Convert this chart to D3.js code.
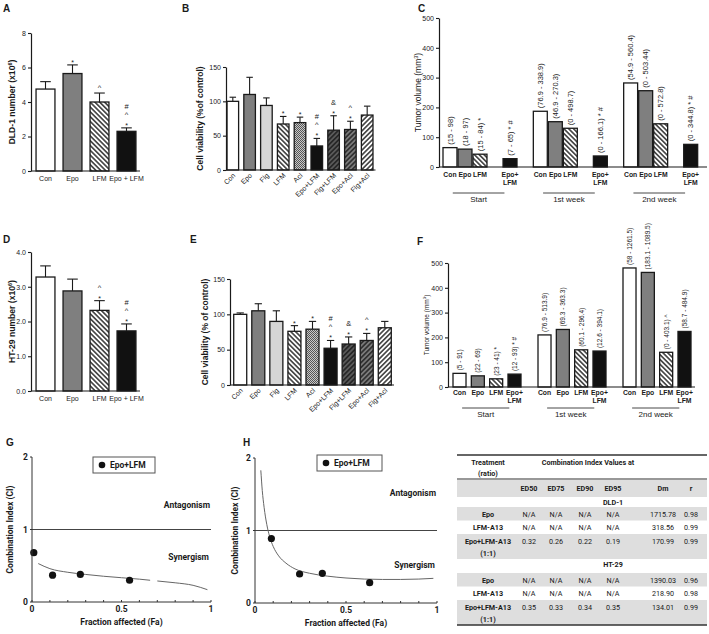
<!DOCTYPE html>
<html><head><meta charset="utf-8">
<script src="https://cdn.jsdelivr.net/npm/d3@7/dist/d3.min.js"></script>
<style>
body{margin:0;background:#fff}
svg{display:block}
text{font-family:Arial,"Liberation Sans",sans-serif;fill:#1a1a1a}
.tb text{font-family:Roboto,"Liberation Sans",Arial,sans-serif}
.ci text{font-family:Roboto,"Liberation Sans",Arial,sans-serif}
</style>
</head><body>
<svg id="chart" width="709" height="634"></svg>
<script>
// ---------------- DATA ----------------
// Panel A (DLD-1 cell number)
const aCats = ["Con","Epo","LFM","Epo + LFM"];
const aVals = [4.75, 5.65, 4.0, 2.3];
const aErr  = [5.18, 6.15, 4.52, 2.5];
const aMarks = [[],["*"],["^"],["*","^","#"]];
const aTicks = [0,2,4,6,8];
// Panel D (HT-29 cell number)
const dCats = ["Con","Epo","LFM","Epo + LFM"];
const dVals = [3.28, 2.88, 2.32, 1.73];
const dErr  = [3.6, 3.22, 2.6, 1.93];
const dMarks = [[],[],["*","^"],["*","^","#"]];
const dTicks = [0,1,2,3,4];
// Panel B (DLD-1 viability)
const vCats = ["Con","Epo","Flg","LFM","Acl","Epo+LFM","Flg+LFM","Epo+Acl","Flg+Acl"];
const bVals = [100, 110, 94, 67, 69, 35, 58, 59, 80];
const bErr  = [106, 135, 105, 78, 77, 46, 79, 71, 93];
const bMarks = [[],[],[],["*"],["*"],["*","^","#"],["*","&"],["*","^"],[]];
// Panel E (HT-29 viability)
const eVals = [100, 105, 90, 76, 79, 52, 58, 63, 81];
const eErr  = [102, 115, 105, 84, 90, 63, 68, 73, 90];
const eMarks = [[],[],[],["*"],["*"],["*","^","#"],["*","&"],["*","^"],[]];
const vTicks = [0,50,100,150];
// Panels C / F (tumor volume)
const tGroups = ["Start","1st week","2nd week"];
const tCats = ["Con","Epo","LFM","Epo+LFM"];
const cVals = [[65, 60, 43, 28],[187, 152, 130, 37],[282, 256, 145, 76]];
const cRanges = [["(15 - 98)","(18 - 97)","(15 - 84)","(7 - 65)"],
                 ["(76.9 - 338.9)","(46.9 - 270.3)","(0 - 498.7)","(0 - 166.1)"],
                 ["(54.9 - 560.4)","(0 - 503.44)","(0 - 572.8)","(0 - 344.8)"]];
const cMarks = [["","","*","*  #"],["","","","*  #"],["","","","*  #"]];
const fVals = [[55, 45, 33, 52],[210, 232, 150, 145],[480, 462, 140, 224]];
const fRanges = [["(5 - 91)","(22 - 69)","(23 - 41)","(12 - 93)"],
                 ["(76.9 - 513.9)","(69.3 - 363.3)","(60.1 - 296.4)","(12.6 - 394.1)"],
                 ["(58 - 1261.5)","(183.1 - 1089.5)","(0 - 403.1)","(58.7 - 484.9)"]];
const fMarks = [["","","*","*  #"],["","","",""],["","","^",""]];
const tTicks = [0,100,200,300,400,500];
// Panels G / H (combination index)
const gPts = [[0.01,0.68],[0.115,0.37],[0.27,0.38],[0.545,0.30]];
const gCurve1 = [[0.035,0.53],[0.1,0.46],[0.2,0.41],[0.3,0.38],[0.4,0.355],[0.5,0.335],[0.6,0.315],[0.66,0.30]];
const gCurve2 = [[0.7,0.29],[0.8,0.265],[0.9,0.23],[0.98,0.17]];
const hPts = [[0.09,0.89],[0.245,0.40],[0.37,0.41],[0.63,0.28]];
const hCurve = [[0.032,1.83],[0.04,1.55],[0.05,1.32],[0.065,1.08],[0.08,0.92],[0.1,0.78],[0.13,0.65],[0.17,0.55],[0.22,0.47],[0.3,0.41],[0.4,0.37],[0.5,0.345],[0.6,0.33],[0.7,0.325],[0.8,0.325],[0.9,0.33],[0.98,0.34]];
const ciTicksY = [0,1,2];
const ciTicksX = [0,0.5,1];
// Table
const tblCols = ["ED50","ED75","ED90","ED95","Dm","r"];
const tblDLD = [["Epo","N/A","N/A","N/A","N/A","1715.78","0.98"],
                ["LFM-A13","N/A","N/A","N/A","N/A","318.56","0.99"],
                ["Epo+LFM-A13|(1:1)","0.32","0.26","0.22","0.19","170.99","0.99"]];
const tblHT  = [["Epo","N/A","N/A","N/A","N/A","1390.03","0.96"],
                ["LFM-A13","N/A","N/A","N/A","N/A","218.90","0.98"],
                ["Epo+LFM-A13|(1:1)","0.35","0.33","0.34","0.35","134.01","0.99"]];

// ---------------- DRAWING ----------------
const svg = d3.select("#chart");
svg.append("rect").attr("width",709).attr("height",634).attr("fill","#fff");
const defs = svg.append("defs");
function hatch(id,bg,fg,angle,gap,lw){
  const p=defs.append("pattern").attr("id",id).attr("patternUnits","userSpaceOnUse")
    .attr("width",gap).attr("height",gap).attr("patternTransform",`rotate(${angle})`);
  p.append("rect").attr("width",gap).attr("height",gap).attr("fill",bg);
  p.append("line").attr("x1",gap/2).attr("x2",gap/2).attr("y1",-1).attr("y2",gap+1)
    .attr("stroke",fg).attr("stroke-width",lw);
}
hatch("hB","#fff","#111",-45,3.4,1.3);
hatch("hF","#fff","#111",45,3.4,1.3);
hatch("hD","#5a5a5a","#111",45,3.4,1.2);
hatch("hM","#7a7a7a","#111",45,3.4,1.2);
{
  const p=defs.append("pattern").attr("id","ck").attr("patternUnits","userSpaceOnUse").attr("width",2).attr("height",2);
  p.append("rect").attr("width",2).attr("height",2).attr("fill","#c8c8c8");
  p.append("rect").attr("width",1).attr("height",1).attr("fill","#555");
  p.append("rect").attr("x",1).attr("y",1).attr("width",1).attr("height",1).attr("fill","#555");
}
const fillOf = c => ({"Con":"#fff","Epo":"#7f7f7f","Flg":"#d6d6d6","LFM":"url(#hB)","Acl":"url(#ck)",
  "Epo+LFM":"#111","Epo + LFM":"#111","Flg+LFM":"url(#hD)","Epo+Acl":"url(#hM)","Flg+Acl":"url(#hF)"})[c];

function panelLabel(t,x,y){
  svg.append("text").attr("x",x).attr("y",y).attr("font-size",10).attr("font-weight","bold").text(t);
}

function styleAxis(sel){
  sel.select(".domain").attr("stroke","#1a1a1a").attr("stroke-width",1.2);
  sel.selectAll(".tick line").attr("stroke","#1a1a1a").attr("stroke-width",1.1);
  sel.selectAll(".tick text").attr("font-size",7).attr("fill","#1a1a1a").style("font-family","Arial");
}

function barPanel(o){
  const g=svg.append("g");
  const x=d3.scaleBand().domain(o.cats).range(o.xr).paddingInner(o.pi).paddingOuter(o.po);
  const y=d3.scaleLinear().domain([0,o.max]).range(o.yr);
  const bw=x.bandwidth();
  o.cats.forEach((c,i)=>{
    const cx=x(c)+bw/2;
    g.append("line").attr("x1",cx).attr("x2",cx).attr("y1",y(o.vals[i])).attr("y2",y(o.err[i]))
      .attr("stroke","#1a1a1a").attr("stroke-width",1.1);
    g.append("line").attr("x1",cx-bw*0.28).attr("x2",cx+bw*0.28).attr("y1",y(o.err[i])).attr("y2",y(o.err[i]))
      .attr("stroke","#1a1a1a").attr("stroke-width",1.1);
    g.append("rect").attr("x",x(c)).attr("y",y(o.vals[i])).attr("width",bw).attr("height",y(0)-y(o.vals[i]))
      .attr("fill",fillOf(c)).attr("stroke","#1a1a1a").attr("stroke-width",1.3);
    o.marks[i].forEach((m,k)=>{
      g.append("text").attr("x",cx).attr("y",y(o.err[i])-3-k*8+(m==="*"?3:0)).attr("text-anchor","middle")
        .attr("font-size",m==="*"?7:7.5).text(m);
    });
  });
  const ay=g.append("g").attr("transform",`translate(${o.ax},0)`)
    .call(d3.axisLeft(y).tickValues(o.ticks).tickSize(3).tickSizeOuter(0).tickPadding(2));
  styleAxis(ay);
  g.append("line").attr("x1",o.ax).attr("x2",o.xr[1]).attr("y1",y(0)).attr("y2",y(0))
    .attr("stroke","#1a1a1a").attr("stroke-width",1.2);
  o.cats.forEach(c=>{
    const cx=x(c)+bw/2;
    if(o.rot){
      g.append("text").attr("transform",`translate(${cx+3},${y(0)+6}) rotate(-45)`).attr("text-anchor","end")
        .attr("font-size",7).text(c);
    } else {
      g.append("text").attr("x",cx).attr("y",y(0)+10).attr("text-anchor","middle").attr("font-size",7).text(c);
    }
  });
  const t=g.append("text").attr("transform",`translate(${o.tx},${(o.yr[0]+o.yr[1])/2}) rotate(-90)`)
    .attr("text-anchor","middle").attr("font-size",o.tfs||7.5).attr("font-weight","bold");
  o.title(t);
}

// Panel A
panelLabel("A",3,12);
barPanel({cats:aCats,vals:aVals,err:aErr,marks:aMarks,ticks:aTicks,max:8,xr:[32,140],pi:0.3,po:0.15,
  yr:[171,33],ax:31,tx:15,rot:false,tfs:8.6,title:t=>{t.append("tspan").text("DLD-1 number (x10");
    t.append("tspan").attr("font-size",5.5).attr("dy",-3).text("6");t.append("tspan").attr("dy",3).text(")");}});
// Panel D
panelLabel("D",3,243);
barPanel({cats:dCats,vals:dVals,err:dErr,marks:dMarks,ticks:dTicks,max:4,xr:[32,140],pi:0.3,po:0.15,
  yr:[391,252],ax:31,tx:15,rot:false,tfs:8.6,title:t=>{t.append("tspan").text("HT-29 number (x10");
    t.append("tspan").attr("font-size",5.5).attr("dy",-3).text("6");t.append("tspan").attr("dy",3).text(")");}});
// Panel B
panelLabel("B",182,12);
barPanel({cats:vCats,vals:bVals,err:bErr,marks:bMarks,ticks:vTicks,max:150,xr:[224.5,375.5],pi:0.31,po:0.15,
  yr:[170,67],ax:226,tx:203,rot:true,tfs:8.5,title:t=>t.text("Cell viability (%of control)")});
// Panel E
panelLabel("E",190,243);
barPanel({cats:vCats,vals:eVals,err:eErr,marks:eMarks,ticks:vTicks,max:150,xr:[231,394],pi:0.28,po:0.15,
  yr:[385,279],ax:230,tx:208,rot:true,tfs:8.5,title:t=>t.text("Cell viability (% of control)")});

function tumorPanel(o){
  const g=svg.append("g");
  const y=d3.scaleLinear().domain([0,500]).range(o.yr);
  const gx=d3.scaleBand().domain(tGroups).range(o.gr);
  const ix=d3.scaleBand().domain(o.inner).range([0,o.iw]).paddingInner(o.pi);
  const bw=ix.bandwidth();
  tGroups.forEach((grp,gi)=>{
    tCats.forEach((c,ci)=>{
      const x0=gx(grp)+ix(c), cx=x0+bw/2, v=o.vals[gi][ci];
      g.append("rect").attr("x",x0).attr("y",y(v)).attr("width",bw).attr("height",y(0)-y(v))
        .attr("fill",fillOf(c)).attr("stroke","#1a1a1a").attr("stroke-width",1.3);
      const lbl=o.ranges[gi][ci]+(o.marks[gi][ci]?"   "+o.marks[gi][ci]:"");
      g.append("text").attr("transform",`translate(${cx+2.6},${y(v)-3}) rotate(-90)`)
        .attr("font-size",o.fs).text(lbl);
      const lines=c==="Epo+LFM"?["Epo+","LFM"]:[c];
      lines.forEach((l,li)=>g.append("text").attr("x",cx).attr("y",y(0)+o.ly+li*7.5).attr("text-anchor","middle")
        .attr("font-size",6.8).attr("font-weight",600).attr("fill","#222").text(l));
    });
    const x0=gx(grp)+ix("Con")+bw*0.7, x1=gx(grp)+ix("Epo+LFM")+bw*0.1;
    g.append("line").attr("x1",x0).attr("x2",x1).attr("y1",y(0)+o.gl).attr("y2",y(0)+o.gl)
      .attr("stroke","#333").attr("stroke-width",0.9);
    g.append("text").attr("x",(x0+x1)/2).attr("y",y(0)+o.gl+9).attr("text-anchor","middle")
      .attr("font-size",8).text(grp);
  });
  const ay=g.append("g").attr("transform",`translate(${o.ax},0)`)
    .call(d3.axisLeft(y).tickValues(tTicks).tickSize(3).tickSizeOuter(0).tickPadding(2));
  styleAxis(ay);
  g.append("line").attr("x1",o.ax).attr("x2",o.xend).attr("y1",y(0)).attr("y2",y(0))
    .attr("stroke","#1a1a1a").attr("stroke-width",1.2);
  const t=g.append("text").attr("transform",`translate(${o.tx},${(o.yr[0]+o.yr[1])/2}) rotate(-90)`)
    .attr("text-anchor","middle").attr("font-size",o.tfs);
  t.append("tspan").text("Tumor volume (mm");
  t.append("tspan").attr("font-size",o.tfs*0.65).attr("dy",-3).text("3");
  t.append("tspan").attr("dy",3).text(")");
}
panelLabel("C",418,12);
tumorPanel({vals:cVals,ranges:cRanges,marks:cMarks,inner:["Con","Epo","LFM","gap","Epo+LFM"],
  gr:[443,714],iw:74,pi:0.07,yr:[167,18],ax:439,xend:707,tx:421,tfs:8.5,fs:7.5,ly:10,gl:26});
panelLabel("F",417,245);
tumorPanel({vals:fVals,ranges:fRanges,marks:fMarks,inner:["Con","Epo","LFM","Epo+LFM"],
  gr:[453,708],iw:68,pi:0.29,yr:[387,263],ax:448,xend:695,tx:429,tfs:6.5,fs:6.5,ly:8,gl:21});

// CI panels
function ciPanel(o){
  const g=svg.append("g").attr("class","ci");
  const x=d3.scaleLinear().domain([0,1]).range(o.xr);
  const y=d3.scaleLinear().domain([0,2]).range(o.yr);
  g.append("line").attr("x1",x(0)).attr("x2",x(1)).attr("y1",y(1)).attr("y2",y(1)).attr("stroke","#444").attr("stroke-width",1);
  const line=d3.line().x(d=>x(d[0])).y(d=>y(d[1])).curve(d3.curveMonotoneX);
  o.curves.forEach(cv=>g.append("path").attr("d",line(cv)).attr("fill","none").attr("stroke","#666").attr("stroke-width",1));
  o.pts.forEach(p=>g.append("circle").attr("cx",x(p[0])).attr("cy",y(p[1])).attr("r",3.6).attr("fill","#111"));
  g.append("line").attr("x1",x(0)).attr("x2",x(0)).attr("y1",y(0)).attr("y2",y(2)).attr("stroke","#333").attr("stroke-width",1);
  g.append("line").attr("x1",x(0)).attr("x2",x(1)).attr("y1",y(0)).attr("y2",y(0)).attr("stroke","#333").attr("stroke-width",1);
  d3.range(0,1.0001,0.1).forEach(v=>g.append("line").attr("x1",x(v)).attr("x2",x(v)).attr("y1",y(0)).attr("y2",y(0)-2).attr("stroke","#333"));
  ciTicksY.forEach(v=>{
    g.append("line").attr("x1",x(0)-2).attr("x2",x(0)).attr("y1",y(v)).attr("y2",y(v)).attr("stroke","#333");
    g.append("text").attr("x",x(0)-4).attr("y",y(v)+3).attr("text-anchor","end").attr("font-size",8.5).attr("font-weight","bold").text(v);
  });
  ciTicksX.forEach(v=>g.append("text").attr("x",x(v)).attr("y",y(0)+10).attr("text-anchor","middle").attr("font-size",8.5).attr("font-weight","bold").text(v));
  g.append("text").attr("x",(o.xr[0]+o.xr[1])/2).attr("y",y(0)+23).attr("text-anchor","middle").attr("font-size",8.5).attr("font-weight","bold").text("Fraction affected (Fa)");
  g.append("text").attr("transform",`translate(${o.tx},${y(1)}) rotate(-90)`).attr("text-anchor","middle").attr("font-size",8.5).attr("font-weight","bold").text("Combination Index (CI)");
  g.append("rect").attr("x",o.lg[0]).attr("y",o.lg[1]).attr("width",o.lg[2]).attr("height",16).attr("fill","#fff").attr("stroke","#555");
  g.append("circle").attr("cx",o.lg[0]+9).attr("cy",o.lg[1]+8).attr("r",3.3).attr("fill","#111");
  g.append("text").attr("x",o.lg[0]+17).attr("y",o.lg[1]+11).attr("font-size",8.5).attr("font-weight","bold").text("Epo+LFM");
  g.append("text").attr("x",x(1)-1).attr("y",o.ant).attr("text-anchor","end").attr("font-size",8.5).attr("font-weight","bold").text("Antagonism");
  g.append("text").attr("x",x(1)-2).attr("y",o.syn).attr("text-anchor","end").attr("font-size",8.5).attr("font-weight","bold").text("Synergism");
}
panelLabel("G",6,446);
ciPanel({xr:[32,211],yr:[602,457],pts:gPts,curves:[gCurve1,gCurve2],tx:13,lg:[93,457,62],ant:508,syn:560});
panelLabel("H",243,446);
ciPanel({xr:[255,437],yr:[603,458],pts:hPts,curves:[hCurve],tx:238,lg:[317,455,65],ant:496,syn:568});

// Table
{
  const g=svg.append("g").attr("class","tb");
  const X0=457, X1=707;
  const colPos={"ED50":529,"ED75":556,"ED90":585,"ED95":613,"Dm":663,"r":691};
  const cx=c=>colPos[c];
  const gray="#dedede";
  const fs=7.2;
  g.append("line").attr("x1",X0).attr("x2",X1).attr("y1",455).attr("y2",455).attr("stroke","#333").attr("stroke-width",1.5);
  g.append("text").attr("x",488).attr("y",465).attr("text-anchor","middle").attr("font-size",fs).attr("font-weight","bold").text("Treatment");
  g.append("text").attr("x",488).attr("y",476).attr("text-anchor","middle").attr("font-size",fs).attr("font-weight","bold").text("(ratio)");
  g.append("text").attr("x",588).attr("y",465).attr("text-anchor","middle").attr("font-size",fs).attr("font-weight","bold").text("Combination Index Values at");
  g.append("line").attr("x1",X0).attr("x2",X1).attr("y1",479).attr("y2",479).attr("stroke","#333").attr("stroke-width",1.2);
  g.append("rect").attr("x",X0).attr("y",480).attr("width",X1-X0).attr("height",17).attr("fill",gray);
  tblCols.forEach(c=>g.append("text").attr("x",cx(c)).attr("y",491).attr("text-anchor","middle").attr("font-size",fs).attr("font-weight","bold").text(c));
  function section(name,rows,y0){
    g.append("text").attr("x",613).attr("y",y0+7.5).attr("text-anchor","middle").attr("font-size",fs).attr("font-weight","bold").text(name);
    let y=y0+10+(name==="HT-29"?4:0);
    rows.forEach((r,ri)=>{
      const parts=r[0].split("|");
      const h=parts.length>1?25:13.5;
      if(ri!==1) g.append("rect").attr("x",X0).attr("y",y).attr("width",X1-X0).attr("height",h).attr("fill",gray);
      const ty=y+9.5;
      parts.forEach((p,pi)=>g.append("text").attr("x",488).attr("y",ty+pi*12).attr("text-anchor","middle").attr("font-size",fs).attr("font-weight","bold").text(p));
      tblCols.forEach((c,ci)=>g.append("text").attr("x",cx(c)).attr("y",ty).attr("text-anchor","middle").attr("font-size",fs).attr("fill","#333").text(r[ci+1]));
      y+=h;
    });
    return y;
  }
  let yy=section("DLD-1",tblDLD,497);
  yy=section("HT-29",tblHT,yy);
  g.append("line").attr("x1",X0).attr("x2",X1).attr("y1",yy).attr("y2",yy).attr("stroke","#333").attr("stroke-width",1.5);
}
</script>
</body></html>
